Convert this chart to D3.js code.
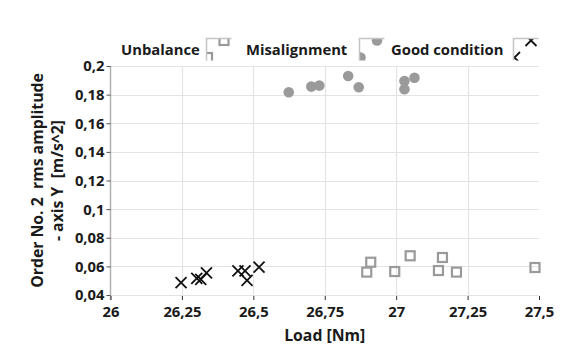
<!DOCTYPE html>
<html>
<head>
<meta charset="utf-8">
<script src="https://cdn.jsdelivr.net/npm/d3@7"></script>
<style>
  html, body { margin: 0; padding: 0; background: #fff; }
  svg text { font-family: "Open Sans", "Noto Sans", sans-serif; font-weight: 700; fill: #1a1a1a; }
</style>
</head>
<body>
<svg id="chart" width="564" height="348"></svg>
<script>
// Load [Nm] vs order 2 rms amplitude for three machine conditions
const unbalanceLoad = [26.897, 26.911, 26.995, 27.049, 27.148, 27.162, 27.211, 27.486];
const unbalanceAmp  = [0.0560, 0.0629, 0.0564, 0.0674, 0.0571, 0.0662, 0.0560, 0.0592];

const misalignLoad = [26.624, 26.703, 26.731, 26.832, 26.869, 27.029, 27.029, 27.064];
const misalignAmp  = [0.1817, 0.1856, 0.1863, 0.1930, 0.1852, 0.1895, 0.1838, 0.1918];

const goodLoad = [26.247, 26.302, 26.316, 26.336, 26.446, 26.471, 26.478, 26.520];
const goodAmp  = [0.0486, 0.0516, 0.0509, 0.0555, 0.0568, 0.0568, 0.0502, 0.0594];

const xTicks = [26, 26.25, 26.5, 26.75, 27, 27.25, 27.5];
const yTicks = [0.04, 0.06, 0.08, 0.1, 0.12, 0.14, 0.16, 0.18, 0.2];
const legendNames = ["Unbalance", "Misalignment", "Good condition"];

const fmtComma = v => String(+v.toFixed(3)).replace(".", ",");

const svg = d3.select("#chart");
const margin = { left: 110.5, right: 25, top: 66, bottom: 53 };
const W = 564, H = 348;
const fs = 14.8;
const titleFs = 15.8;

const x = d3.scaleLinear().domain([26, 27.5]).range([margin.left, W - margin.right]);
const y = d3.scaleLinear().domain([0.04, 0.2]).range([H - margin.bottom, margin.top]);

const gridColor = "#e3e3e3";
const markGray = "#9a9a9a";

// grid
svg.append("g").selectAll("line.h").data(yTicks).join("line")
  .attr("x1", x(26)).attr("x2", x(27.5))
  .attr("y1", d => Math.round(y(d)) + 0.5).attr("y2", d => Math.round(y(d)) + 0.5)
  .attr("stroke", gridColor).attr("stroke-width", 1.2);
svg.append("g").selectAll("line.v").data(xTicks.slice(1, -1)).join("line")
  .attr("x1", d => Math.round(x(d)) + 0.5).attr("x2", d => Math.round(x(d)) + 0.5)
  .attr("y1", y(0.2)).attr("y2", y(0.04))
  .attr("stroke", gridColor).attr("stroke-width", 1.2);

// y axis
const yAxis = d3.axisLeft(y).tickValues(yTicks).tickFormat(fmtComma).tickSize(4).tickPadding(2);
const gy = svg.append("g").attr("transform", `translate(${margin.left},0)`).call(yAxis);
gy.select(".domain").attr("stroke", "#b0b0b0").attr("stroke-width", 1.5)
  .attr("d", `M0,${y(0.2)}V${y(0.04) + 5}`);
gy.selectAll(".tick line").attr("stroke", "#555");
gy.selectAll(".tick text").attr("font-size", fs).attr("dy", "0.33em");

// x axis (ticks and labels only)
const xAxis = d3.axisBottom(x).tickValues(xTicks).tickFormat(fmtComma).tickSize(4).tickPadding(6);
const gx = svg.append("g").attr("transform", `translate(0,${y(0.04) + 1})`).call(xAxis);
gx.select(".domain").remove();
gx.selectAll(".tick line").attr("stroke", "#333");
gx.selectAll(".tick text").attr("font-size", fs);

// axis titles
svg.append("text").attr("x", x(26.75)).attr("y", 341).attr("text-anchor", "middle")
  .attr("font-size", titleFs).text("Load [Nm]");
const yt = svg.append("text").attr("transform", `translate(43,${(y(0.2) + y(0.04)) / 2}) rotate(-90)`)
  .attr("text-anchor", "middle").attr("font-size", titleFs);
yt.append("tspan").attr("x", 0).attr("y", 0).attr("xml:space", "preserve").text("Order No. 2  rms amplitude");
yt.append("tspan").attr("x", 0).attr("y", 20).attr("xml:space", "preserve").text("- axis Y  [m/s^2]");

// marker painters
function drawSquare(g, cx, cy) {
  g.append("rect").attr("x", cx - 4.5).attr("y", cy - 4.5).attr("width", 9).attr("height", 9)
    .attr("fill", "none").attr("stroke", markGray).attr("stroke-width", 2.2);
}
function drawCircle(g, cx, cy) {
  g.append("circle").attr("cx", cx).attr("cy", cy).attr("r", 5.3).attr("fill", markGray);
}
function drawCross(g, cx, cy) {
  const s = 5.5;
  g.append("path").attr("d", `M${cx - s},${cy - s}L${cx + s},${cy + s}M${cx - s},${cy + s}L${cx + s},${cy - s}`)
    .attr("stroke", "#111").attr("stroke-width", 1.8).attr("fill", "none");
}

// data marks
const marks = svg.append("g");
misalignLoad.forEach((v, i) => drawCircle(marks, x(v), y(misalignAmp[i])));
unbalanceLoad.forEach((v, i) => drawSquare(marks, x(v), y(unbalanceAmp[i])));
goodLoad.forEach((v, i) => drawCross(marks, x(v), y(goodAmp[i])));

// legend: name followed by a small clipped swatch
const legend = svg.append("g");
const painters = [drawSquare, drawCircle, drawCross];
const textX = [121, 246, 391];
const swX = [206.5, 359.5, 513.5];
legendNames.forEach((name, i) => {
  legend.append("text").attr("x", textX[i]).attr("y", 55).attr("font-size", fs).text(name);
  const sx = swX[i], sy = 38.5, sw = 25, sh = 22;
  const clipId = "sw" + i;
  legend.append("clipPath").attr("id", clipId)
    .append("rect").attr("x", sx).attr("y", sy).attr("width", sw).attr("height", sh);
  const g = legend.append("g").attr("clip-path", `url(#${clipId})`);
  painters[i](g, sx + 17.5, sy + 2);
  painters[i](g, sx + 1, sy + 19);
  legend.append("path").attr("d", `M${sx},${sy + sh}V${sy}H${sx + sw}`)
    .attr("stroke", "#c4c4c4").attr("stroke-width", 1.5).attr("fill", "none");
});
</script>
</body>
</html>
